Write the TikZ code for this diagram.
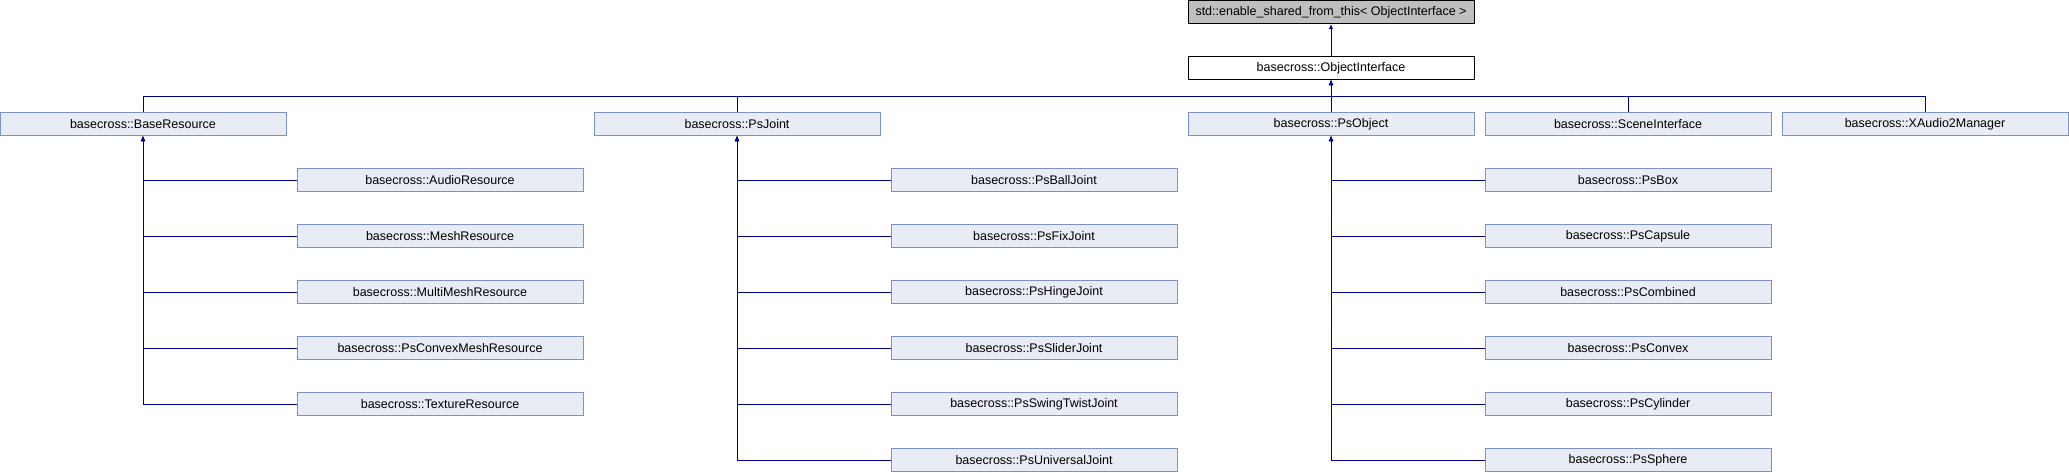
\documentclass[tikz,border=0pt]{standalone}
\usepackage{fontspec}
\setmainfont{Liberation Sans}
\usetikzlibrary{arrows.meta}
\definecolor{edgeblue}{RGB}{0,0,150}
\definecolor{boxfill}{RGB}{232,236,245}
\definecolor{boxline}{RGB}{122,146,200}
\definecolor{extfill}{RGB}{191,191,191}

\begin{document}
\begin{tikzpicture}[x=1pt,y=-1pt,
  cls/.style={draw=boxline,fill=boxfill,line width=1pt,minimum width=286pt,minimum height=23pt,inner sep=0pt,font=\fontsize{12.5}{14}\selectfont},
  inh/.style={draw=edgeblue,line width=1pt,-{Latex[length=5pt,width=4.5pt]}}]
\useasboundingbox (0,0) rectangle (2069,472);

% Draw the base classes on top
  \node[cls,draw=black,fill=extfill] (esft) at (1331,12) {std::enable\_shared\_from\_this< ObjectInterface >};
  \node[cls,draw=black,fill=white] (oi) at (1331,68) {basecross::ObjectInterface};
  \coordinate (bus) at (1331,96);

% Draw the first row
  \node[cls] (br) at (143,124) {basecross::BaseResource};
  \node[cls] (psj) at (737,124) {basecross::PsJoint};
  \node[cls] (pso) at (1331,124) {basecross::PsObject};
  \node[cls] (scene) at (1628,124) {basecross::SceneInterface};
  \node[cls] (xa) at (1925,124) {basecross::XAudio2Manager};

% Draw the resources
  \node[cls] (aud) at (440,180) {basecross::AudioResource};
  \node[cls] (mesh) at (440,236) {basecross::MeshResource};
  \node[cls] (mmesh) at (440,292) {basecross::MultiMeshResource};
  \node[cls] (cmesh) at (440,348) {basecross::PsConvexMeshResource};
  \node[cls] (tex) at (440,404) {basecross::TextureResource};

% Draw the joints
  \node[cls] (ball) at (1034,180) {basecross::PsBallJoint};
  \node[cls] (fix) at (1034,236) {basecross::PsFixJoint};
  \node[cls] (hinge) at (1034,292) {basecross::PsHingeJoint};
  \node[cls] (slider) at (1034,348) {basecross::PsSliderJoint};
  \node[cls] (swing) at (1034,404) {basecross::PsSwingTwistJoint};
  \node[cls] (univ) at (1034,460) {basecross::PsUniversalJoint};

% Draw the objects
  \node[cls] (box) at (1628,180) {basecross::PsBox};
  \node[cls] (caps) at (1628,236) {basecross::PsCapsule};
  \node[cls] (comb) at (1628,292) {basecross::PsCombined};
  \node[cls] (conv) at (1628,348) {basecross::PsConvex};
  \node[cls] (cyl) at (1628,404) {basecross::PsCylinder};
  \node[cls] (sph) at (1628,460) {basecross::PsSphere};

% Draw the inheritance arrows
  \draw[inh] (oi) -- (esft);
  \draw[inh] (br.north) |- (bus) -- (oi.south);
  \draw[inh] (psj.north) |- (bus) -- (oi.south);
  \draw[inh] (pso) -- (oi);
  \draw[inh] (scene.north) |- (bus) -- (oi.south);
  \draw[inh] (xa.north) |- (bus) -- (oi.south);

  \draw[inh] (aud.west) -| (br.south);
  \draw[inh] (mesh.west) -| (br.south);
  \draw[inh] (mmesh.west) -| (br.south);
  \draw[inh] (cmesh.west) -| (br.south);
  \draw[inh] (tex.west) -| (br.south);

  \draw[inh] (ball.west) -| (psj.south);
  \draw[inh] (fix.west) -| (psj.south);
  \draw[inh] (hinge.west) -| (psj.south);
  \draw[inh] (slider.west) -| (psj.south);
  \draw[inh] (swing.west) -| (psj.south);
  \draw[inh] (univ.west) -| (psj.south);

  \draw[inh] (box.west) -| (pso.south);
  \draw[inh] (caps.west) -| (pso.south);
  \draw[inh] (comb.west) -| (pso.south);
  \draw[inh] (conv.west) -| (pso.south);
  \draw[inh] (cyl.west) -| (pso.south);
  \draw[inh] (sph.west) -| (pso.south);
\end{tikzpicture}
\end{document}
